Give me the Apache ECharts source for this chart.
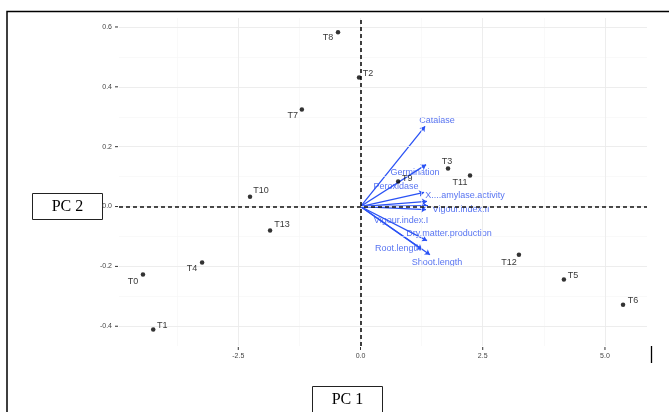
<!DOCTYPE html>
<html>
<head>
<meta charset="utf-8">
<script src="https://cdn.jsdelivr.net/npm/echarts@6/dist/echarts.min.js"></script>
<style>
  html, body { margin: 0; padding: 0; background: #fff; }
  #chart { width: 669px; height: 412px; }
</style>
</head>
<body>
<div id="chart"></div>
<script>
// PCA scores of the treatments
const treatments = ['T0', 'T1', 'T2', 'T3', 'T4', 'T5', 'T6', 'T7', 'T8', 'T9', 'T10', 'T11', 'T12', 'T13'];
const scorePC1 = [-4.45, -4.24, -0.03, 1.79, -3.24, 4.16, 5.37, -1.20, -0.46, 0.77, -2.26, 2.24, 3.24, -1.85];
const scorePC2 = [-0.227, -0.411, 0.431, 0.127, -0.187, -0.244, -0.328, 0.324, 0.582, 0.084, 0.033, 0.104, -0.161, -0.080];

// Variable loadings (arrows)
const variables = ['Catalase', 'Germination', 'Peroxidase', 'X....amylase.activity', 'Vigour.index.II',
                   'Vigour.index.I', 'Dry.matter.production', 'Root.length', 'Shoot.length'];
const loadPC1 = [1.32, 1.34, 1.30, 1.36, 1.38, 1.34, 1.36, 1.26, 1.42];
const loadPC2 = [0.268, 0.140, 0.047, 0.017, 0.003, -0.010, -0.114, -0.144, -0.161];

// Axis ticks
const xTicks = [-2.5, 0, 2.5, 5];
const xTickLabels = ['-2.5', '0.0', '2.5', '5.0'];
const yTicks = [-0.4, -0.2, 0, 0.2, 0.4, 0.6];
const yTickLabels = ['-0.4', '-0.2', '0.0', '0.2', '0.4', '0.6'];
const xMinorTicks = [-3.75, -1.25, 1.25, 3.75];
const yMinorTicks = [-0.3, -0.1, 0.1, 0.3, 0.5];

// Label nudges (pixels) so text sits beside its point / arrow tip
const pointLabelNudge = [[-10, 7], [9, -4], [9, -4], [-1, -7], [-10, 6], [9, -4], [10, -4],
                         [-9, 6], [-10, 5], [9, -3], [11, -6], [-10, 7], [-10, 8], [12, -6]];
const varLabelNudge = [[12, -6], [-11, 8], [-28, -6], [38, -6], [33, 4], [-25, 11], [22, -7], [-24, -1], [7, 8]];

const X_MIN = -4.94, X_MAX = 5.86, Y_MIN = -0.466, Y_MAX = 0.63;
const ARROW_BLUE = '#2a52f5';
const LABEL_BLUE = '#2d50ee';

function tickText(values, labels) {
  return v => {
    const i = values.findIndex(t => Math.abs(t - v) < 1e-9);
    return i >= 0 ? labels[i] : '';
  };
}

const chart = echarts.init(document.getElementById('chart'), null, { renderer: 'canvas' });

// tick marks: 'x' ticks sit under the panel, 'y' ticks left of it
const tickData = xTicks.map(v => ['x', v]).concat(yTicks.map(v => ['y', v]));

const option = {
  animation: false,
  backgroundColor: '#fff',
  grid: { left: 119, right: 22, top: 18, bottom: 66, containLabel: false },
  xAxis: {
    type: 'value', min: X_MIN, max: X_MAX,
    axisLine: { show: false }, axisTick: { show: false }, splitLine: { show: false },
    axisLabel: { customValues: xTicks, formatter: tickText(xTicks, xTickLabels),
                 fontSize: 7, color: '#444', margin: 7, fontFamily: 'Liberation Sans' }
  },
  yAxis: {
    type: 'value', min: Y_MIN, max: Y_MAX,
    axisLine: { show: false }, axisTick: { show: false }, splitLine: { show: false },
    axisLabel: { customValues: yTicks, formatter: tickText(yTicks, yTickLabels),
                 fontSize: 7, color: '#444', margin: 7, fontFamily: 'Liberation Sans' }
  },
  series: [
    {
      // panel grid lines
      type: 'scatter', z: 1, silent: true, symbolSize: 0,
      data: [[0, 0]],
      markLine: {
        silent: true, symbol: 'none', label: { show: false },
        data: [
          ...xMinorTicks.map(v => ({ xAxis: v, lineStyle: { color: '#f5f5f5', width: 0.6, type: 'solid' } })),
          ...yMinorTicks.map(v => ({ yAxis: v, lineStyle: { color: '#f5f5f5', width: 0.6, type: 'solid' } })),
          ...xTicks.map(v => ({ xAxis: v, lineStyle: { color: '#ebebeb', width: 0.9, type: 'solid' } })),
          ...yTicks.map(v => ({ yAxis: v, lineStyle: { color: '#ebebeb', width: 0.9, type: 'solid' } }))
        ]
      }
    },
    {
      // axis tick marks
      type: 'custom', z: 2, silent: true, clip: false,
      data: tickData,
      renderItem: (params, api) => {
        const d = tickData[params.dataIndex];
        if (d[0] === 'x') {
          const p = api.coord([d[1], Y_MIN]);
          return { type: 'line', shape: { x1: p[0], y1: p[1] + 1, x2: p[0], y2: p[1] + 4 },
                   style: { stroke: '#333', lineWidth: 1 } };
        }
        const p = api.coord([X_MIN, d[1]]);
        return { type: 'line', shape: { x1: p[0] - 4, y1: p[1], x2: p[0] - 1, y2: p[1] },
                 style: { stroke: '#333', lineWidth: 1 } };
      }
    },
    {
      // dashed reference lines through the origin
      type: 'scatter', z: 2, silent: true, symbolSize: 0,
      data: [[0, 0]],
      markLine: {
        silent: true, symbol: 'none', label: { show: false },
        lineStyle: { color: '#111', width: 1.6, type: [4, 3] },
        data: [{ xAxis: 0 }, { yAxis: 0 }]
      }
    },
    {
      // loading arrows
      type: 'lines', coordinateSystem: 'cartesian2d', z: 3, silent: true,
      symbol: ['none', 'arrow'], symbolSize: 5,
      lineStyle: { color: ARROW_BLUE, width: 1.3, opacity: 1 },
      data: variables.map((v, i) => ({ name: v, coords: [[0, 0], [loadPC1[i], loadPC2[i]]] }))
    },
    {
      // arrow labels
      type: 'scatter', z: 4, silent: true, symbolSize: 1,
      itemStyle: { color: 'transparent' },
      data: variables.map((v, i) => ({
        name: v, value: [loadPC1[i], loadPC2[i]],
        label: { offset: varLabelNudge[i] }
      })),
      label: {
        show: true, position: 'inside', formatter: p => p.name,
        color: LABEL_BLUE, fontSize: 9, fontFamily: 'Liberation Sans'
      }
    },
    {
      // treatment scores
      type: 'scatter', z: 5, silent: true, symbolSize: 4.5,
      itemStyle: { color: '#000' },
      data: treatments.map((t, i) => ({
        name: t, value: [scorePC1[i], scorePC2[i]],
        label: { offset: pointLabelNudge[i] }
      })),
      label: {
        show: true, position: 'inside', formatter: p => p.name,
        color: '#000', fontSize: 9, fontFamily: 'Liberation Sans'
      }
    }
  ],
  graphic: [
    {
      type: 'polyline', silent: true, z: 10,
      shape: { points: [[7, 412], [7, 11.5], [669, 11.5]] },
      style: { stroke: '#000', lineWidth: 1.5, fill: null }
    },
    {
      type: 'line', silent: true, z: 10,
      shape: { x1: 651.5, y1: 346, x2: 651.5, y2: 363 },
      style: { stroke: '#000', lineWidth: 1.3 }
    },
    {
      type: 'group', left: 32, top: 193, z: 10,
      children: [
        { type: 'rect', shape: { x: 0.5, y: 0.5, width: 70, height: 26 },
          style: { fill: '#fff', stroke: '#222', lineWidth: 1 } },
        { type: 'text', x: 35.5, y: 13.5,
          style: { text: 'PC 2', fill: '#000', font: '16px "Liberation Serif"', align: 'center', verticalAlign: 'middle' } }
      ]
    },
    {
      type: 'group', left: 312, top: 386, z: 10,
      children: [
        { type: 'rect', shape: { x: 0.5, y: 0.5, width: 70, height: 30 },
          style: { fill: '#fff', stroke: '#222', lineWidth: 1 } },
        { type: 'text', x: 35.5, y: 14,
          style: { text: 'PC 1', fill: '#000', font: '16px "Liberation Serif"', align: 'center', verticalAlign: 'middle' } }
      ]
    }
  ]
};

chart.setOption(option);
</script>
</body>
</html>
